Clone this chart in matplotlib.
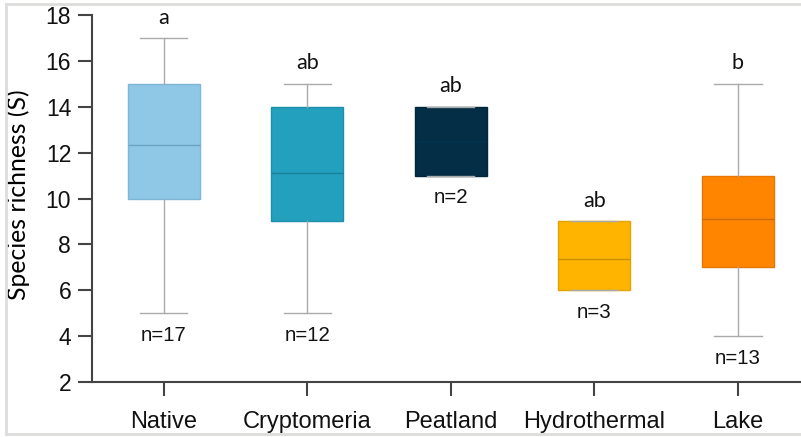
import matplotlib.pyplot as plt
from matplotlib.lines import Line2D

# data
sites = ['Native', 'Cryptomeria', 'Peatland', 'Hydrothermal', 'Lake']
whislo = [5, 5, 11, 6, 4]
q1 = [10, 9, 11, 6, 7]
med = [12.35, 11.1, 12.5, 7.35, 9.1]
q3 = [15, 14, 14, 9, 11]
whishi = [17, 15, 14, 9, 15]
n_obs = [17, 12, 2, 3, 13]
letters = ['a', 'ab', 'ab', 'ab', 'b']

fills = ['#8ec8e6', '#22a0be', '#032e46', '#ffb400', '#ff8500']
edges = ['#7fb6d4', '#1d8ea9', '#02263a', '#e6a200', '#e67700']
medcols = ['#6ea3c0', '#1a7f98', '#01334f', '#cc9000', '#cc6a00']

fig = plt.figure(figsize=(8.01, 4.37), dpi=100)
ax = fig.add_axes([92 / 801, 1 - 382 / 437, 1 - 92 / 801, 367 / 437])

stats = []
for i, s in enumerate(sites):
    stats.append(dict(label=s, whislo=whislo[i], q1=q1[i], med=med[i],
                      q3=q3[i], whishi=whishi[i], fliers=[]))

bp = ax.bxp(stats, positions=range(len(sites)), widths=0.5,
            patch_artist=True, showfliers=False,
            whiskerprops=dict(color='#aaaaaa', lw=1),
            capprops=dict(color='#aaaaaa', lw=1), capwidths=0.33)
for i, b in enumerate(bp['boxes']):
    b.set_facecolor(fills[i])
    b.set_edgecolor(edges[i])
    b.set_linewidth(1)
    bp['medians'][i].set_color(medcols[i])
    bp['medians'][i].set_linewidth(1)

lab_font = ['Lato', 'DejaVu Sans']
arial = ['Liberation Sans', 'DejaVu Sans']
for i in range(len(sites)):
    ax.text(i, whishi[i] + 0.45, letters[i], ha='center', va='bottom',
            fontsize=15.5, family=lab_font, color='#111111')
    ax.text(i, whislo[i] - 0.55, 'n=%d' % n_obs[i], ha='center', va='top',
            fontsize=14.7, family=arial, color='#111111')

ax.set_xlim(-0.5, 4.44)
ax.set_ylim(2, 18)
ax.set_yticks(range(2, 19, 2))
ax.set_xticks(range(len(sites)))
ax.set_xticklabels(sites, family=arial, fontsize=17)
for t in ax.get_yticklabels():
    t.set_family(arial)
    t.set_fontsize(16.5)
ax.set_ylabel('Species richness (S)', family=lab_font, fontsize=17.8)
ax.yaxis.set_label_coords((30 - 92) / 709, 0.51)

for side in ['top', 'right']:
    ax.spines[side].set_visible(False)
for side in ['left', 'bottom']:
    ax.spines[side].set_color('#444444')
    ax.spines[side].set_linewidth(1.5)
ax.tick_params(axis='both', colors='#444444', width=1.5, length=10,
               labelcolor='#111111')
ax.tick_params(axis='x', pad=11)
ax.tick_params(axis='y', pad=5)

# light frame around the picture
frame = '#dddddb'
fig.add_artist(Line2D([6 / 801, 6 / 801], [3 / 437, 1 - 4 / 437], color=frame, lw=2))
fig.add_artist(Line2D([6 / 801, 1], [1 - 4 / 437, 1 - 4 / 437], color=frame, lw=2))
fig.add_artist(Line2D([6 / 801, 1], [3 / 437, 3 / 437], color=frame, lw=2))

fig.savefig('out.png', dpi=100)
